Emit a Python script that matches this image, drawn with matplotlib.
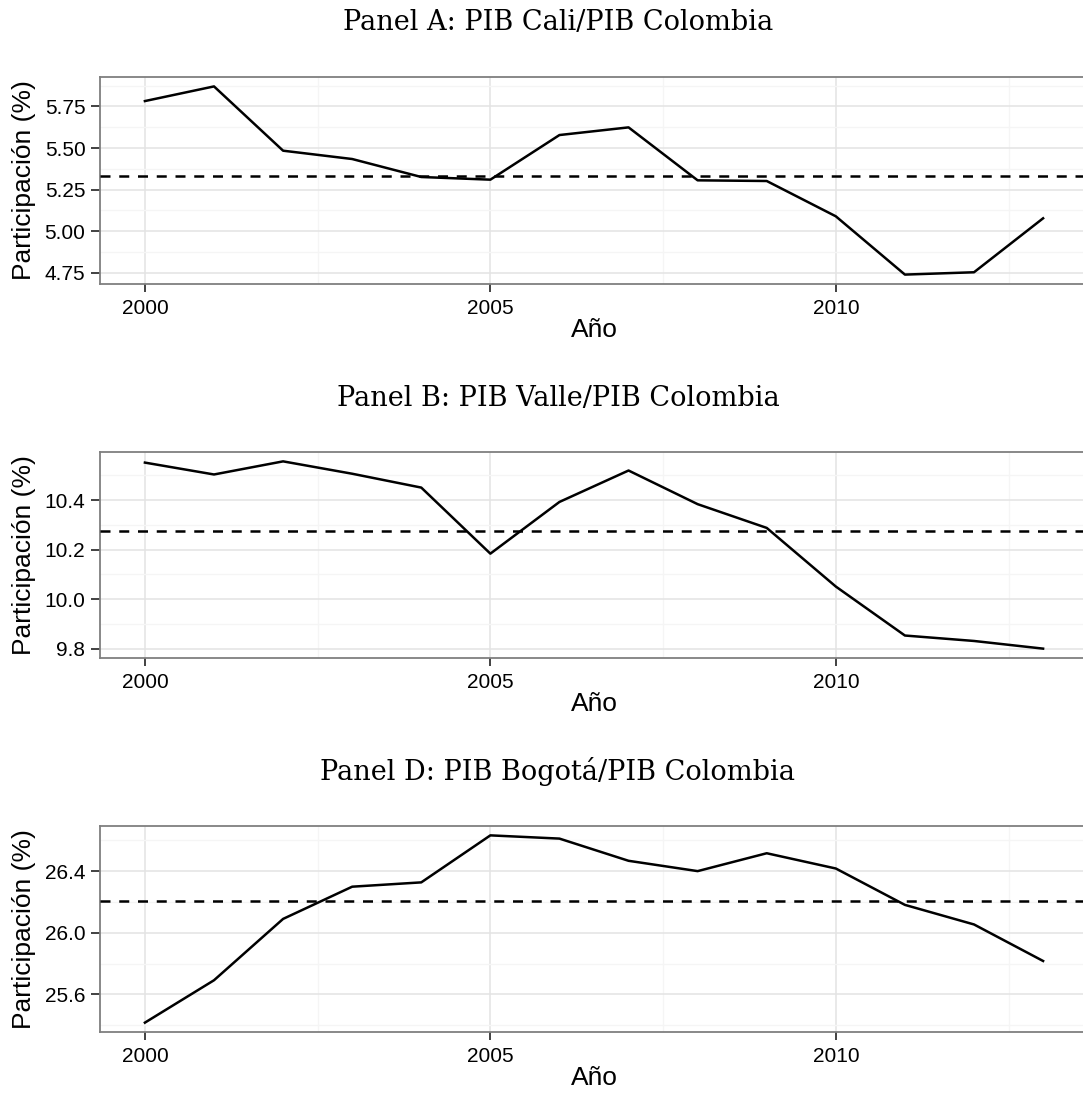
import numpy as np
from matplotlib import pyplot as plt
from matplotlib.ticker import FixedLocator, FormatStrFormatter

# Datos (participación % en el PIB de Colombia)
anios = list(range(2000, 2014))
pib_cali = [5.782, 5.870, 5.484, 5.434, 5.326, 5.310, 5.578, 5.624,
            5.306, 5.302, 5.090, 4.740, 4.754, 5.078]
pib_valle = [10.552, 10.504, 10.557, 10.507, 10.451, 10.184, 10.393, 10.520,
             10.384, 10.288, 10.051, 9.853, 9.831, 9.800]
pib_bogota = [25.417, 25.692, 26.090, 26.299, 26.327, 26.632, 26.611, 26.467,
              26.400, 26.516, 26.417, 26.181, 26.054, 25.817]

titulos = ["Panel A: PIB Cali/PIB Colombia",
           "Panel B: PIB Valle/PIB Colombia",
           "Panel D: PIB Bogotá/PIB Colombia"]
yticks = [[4.75, 5.00, 5.25, 5.50, 5.75],
          [9.8, 10.0, 10.2, 10.4],
          [25.6, 26.0, 26.4]]
yfmt = ["%.2f", "%.1f", "%.1f"]
xticks = [2000, 2005, 2010]

W, H = 1083, 1095
fig = plt.figure(figsize=(W / 100, H / 100), dpi=100)

# posiciones en pixeles (arriba, abajo) de cada panel
paneles = [(77, 284), (452, 658), (826, 1032)]
izq, der = 100, 1088

for i, serie in enumerate([pib_cali, pib_valle, pib_bogota]):
    top, bot = paneles[i]
    ax = fig.add_axes([izq / W, 1 - bot / H, (der - izq) / W, (bot - top) / H])
    ax.plot(anios, serie, color="black", lw=1.8, zorder=3)
    ax.axhline(np.mean(serie), color="black", lw=1.8, ls=(0, (4, 3.5)), zorder=3)

    # límites estilo ggplot (expansión del 5%)
    r = max(serie) - min(serie)
    ax.set_ylim(min(serie) - 0.05 * r, max(serie) + 0.05 * r)
    ax.set_xlim(anios[0] - 0.65, anios[-1] + 0.65)

    yt = yticks[i]
    paso = yt[1] - yt[0]
    ax.yaxis.set_major_locator(FixedLocator(yt))
    ax.yaxis.set_minor_locator(FixedLocator([v + paso / 2 for v in yt] + [yt[0] - paso / 2]))
    ax.yaxis.set_major_formatter(FormatStrFormatter(yfmt[i]))
    ax.xaxis.set_major_locator(FixedLocator(xticks))
    ax.xaxis.set_minor_locator(FixedLocator([2002.5, 2007.5, 2012.5]))

    ax.grid(which="major", color="#E3E3E3", lw=1.1, zorder=0)
    ax.grid(which="minor", color="#F5F5F5", lw=1.0, zorder=0)
    ax.set_axisbelow(True)
    ax.tick_params(which="minor", length=0)
    ax.tick_params(axis="x", which="major", length=6, width=1.3, color="#333333",
                   labelsize=15, pad=5)
    ax.tick_params(axis="y", which="major", length=6.5, width=1.3, color="#333333",
                   labelsize=15, pad=4)
    for s in ax.spines.values():
        s.set_color("#7F7F7F")
        s.set_linewidth(1.3)

    ax.set_xlabel("Año", fontsize=19, labelpad=0, family="Liberation Sans")
    ax.set_ylabel("Participación (%)", fontsize=19, family="Liberation Sans")
    ax.yaxis.set_label_coords(-0.065, 0.5)
    for lab in ax.get_xticklabels() + ax.get_yticklabels():
        lab.set_family("Liberation Sans")

    fig.text(558 / W, 1 - (top - 54) / H, titulos[i], ha="center", va="center",
             fontsize=19.5, family="DejaVu Serif")

fig.savefig("out.png", dpi=100)
